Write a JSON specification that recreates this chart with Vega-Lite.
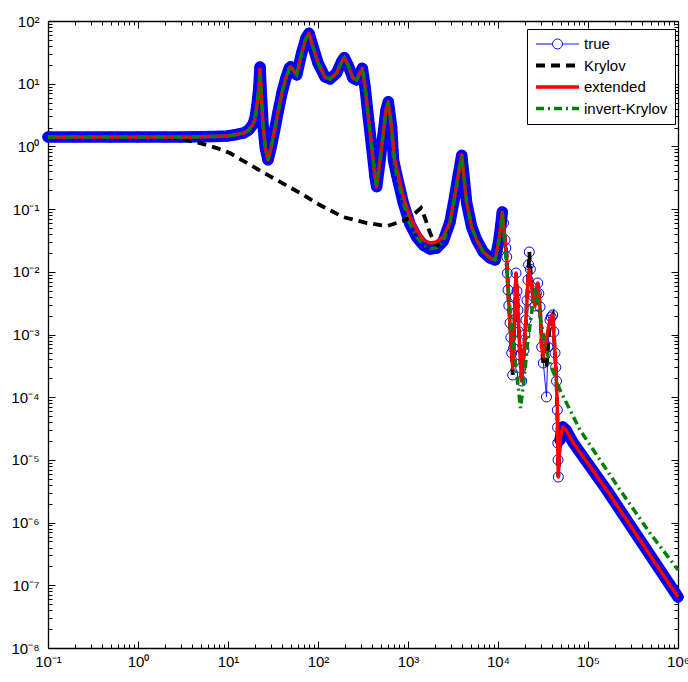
{
"$schema":"https://vega.github.io/schema/vega-lite/v6.json",
"width":630,"height":627,
"autosize":{"type":"none"},
"padding":{"left":48,"top":21,"right":10,"bottom":34},
"background":"white",
"config":{"view":{"stroke":null},
 "legend":{"orient":"none","legendX":479,"legendY":8,"strokeColor":"black","fillColor":"white","padding":7,"labelFont":"Liberation Sans","labelFontSize":15,"labelColor":"black","symbolSize":1849,"clipHeight":16,"rowPadding":5.5,"labelOffset":3,"symbolType":"stroke"}},
"datasets":{
"d":[
{"s":"true","x":0.1,"y":1.41},{"s":"true","x":0.2,"y":1.41},{"s":"true","x":0.5,"y":1.41},{"s":"true","x":1,"y":1.41},{"s":"true","x":2,"y":1.41},{"s":"true","x":3,"y":1.41},{"s":"true","x":5,"y":1.42},{"s":"true","x":7,"y":1.44},{"s":"true","x":10,"y":1.47},{"s":"true","x":12.5,"y":1.55},{"s":"true","x":15,"y":1.64},{"s":"true","x":17,"y":1.83},{"s":"true","x":19,"y":2.27},{"s":"true","x":20,"y":2.84},{"s":"true","x":21,"y":4.57},{"s":"true","x":22,"y":8.5},{"s":"true","x":22.7,"y":18.4},{"s":"true","x":23.5,"y":6.6},{"s":"true","x":24.5,"y":2.19},{"s":"true","x":26,"y":0.94},{"s":"true","x":27.8,"y":0.61},{"s":"true","x":30,"y":0.94},{"s":"true","x":33,"y":1.83},{"s":"true","x":36,"y":3.54},{"s":"true","x":40,"y":7.4},{"s":"true","x":44,"y":12.3},{"s":"true","x":48,"y":17.8},{"s":"true","x":49.8,"y":18.7},{"s":"true","x":58,"y":13.8},{"s":"true","x":65.9,"y":30.9},{"s":"true","x":73.6,"y":53.5},{"s":"true","x":79.4,"y":63.7},{"s":"true","x":88,"y":38.9},{"s":"true","x":100,"y":21.4},{"s":"true","x":119.6,"y":12.8},{"s":"true","x":136,"y":11.9},{"s":"true","x":161,"y":14.8},{"s":"true","x":183,"y":22.4},{"s":"true","x":196,"y":26},{"s":"true","x":215,"y":19.9},{"s":"true","x":245,"y":12.3},{"s":"true","x":269,"y":11.5},{"s":"true","x":293,"y":14.8},{"s":"true","x":311,"y":17.6},{"s":"true","x":333,"y":8.96},{"s":"true","x":362,"y":2.98},{"s":"true","x":395,"y":0.99},{"s":"true","x":430,"y":0.329},{"s":"true","x":449,"y":0.228},{"s":"true","x":489,"y":0.607},{"s":"true","x":532,"y":1.64},{"s":"true","x":570,"y":3.81},{"s":"true","x":604,"y":5.16},{"s":"true","x":659,"y":1.96},{"s":"true","x":690,"y":0.607},{"s":"true","x":749,"y":0.35},{"s":"true","x":887,"y":0.125},{"s":"true","x":1052,"y":0.0578},{"s":"true","x":1250,"y":0.0359},{"s":"true","x":1480,"y":0.0267},{"s":"true","x":1755,"y":0.0231},{"s":"true","x":2083,"y":0.024},{"s":"true","x":2468,"y":0.031},{"s":"true","x":2930,"y":0.0622},{"s":"true","x":3328,"y":0.168},{"s":"true","x":3622,"y":0.35},{"s":"true","x":3954,"y":0.72},{"s":"true","x":4117,"y":0.421},{"s":"true","x":4487,"y":0.125},{"s":"true","x":5102,"y":0.0519},{"s":"true","x":5800,"y":0.0321},{"s":"true","x":6870,"y":0.0207},{"s":"true","x":8150,"y":0.0166},{"s":"true","x":9270,"y":0.0154},{"s":"true","x":10260,"y":0.0321},{"s":"true","x":10800,"y":0.0578},{"s":"true","x":11160,"y":0.09},{"s":"true","x":11500,"y":0.06},{"s":"true","x":11960,"y":0.0321},{"s":"true","x":12200,"y":0.024},{"s":"true","x":12500,"y":0.0172},{"s":"true","x":12700,"y":0.0095},{"s":"true","x":12920,"y":0.00513},{"s":"true","x":13200,"y":0.0029},{"s":"true","x":13600,"y":0.00153},{"s":"true","x":13900,"y":0.0009},{"s":"true","x":14200,"y":0.000507},{"s":"true","x":14560,"y":0.000226},{"s":"true","x":14900,"y":0.0006},{"s":"true","x":15250,"y":0.0017},{"s":"true","x":15550,"y":0.004},{"s":"true","x":15850,"y":0.00957},{"s":"true","x":16250,"y":0.0049},{"s":"true","x":16670,"y":0.00246},{"s":"true","x":17100,"y":0.0011},{"s":"true","x":17550,"y":0.000471},{"s":"true","x":17900,"y":0.00029},{"s":"true","x":18330,"y":0.000181},{"s":"true","x":19450,"y":0.000566},{"s":"true","x":19900,"y":0.001},{"s":"true","x":20460,"y":0.0017},{"s":"true","x":21000,"y":0.0035},{"s":"true","x":21540,"y":0.0074},{"s":"true","x":21900,"y":0.013},{"s":"true","x":22280,"y":0.0207},{"s":"true","x":22900,"y":0.011},{"s":"true","x":23660,"y":0.00573},{"s":"true","x":24700,"y":0.0041},{"s":"true","x":25760,"y":0.00285},{"s":"true","x":26700,"y":0.0045},{"s":"true","x":27620,"y":0.00662},{"s":"true","x":28400,"y":0.0045},{"s":"true","x":29290,"y":0.00275},{"s":"true","x":30600,"y":0.000632},{"s":"true","x":31880,"y":0.000351},{"s":"true","x":34570,"y":0.000101},{"s":"true","x":35940,"y":0.000632},{"s":"true","x":37830,"y":0.0017},{"s":"true","x":39000,"y":0.0019},{"s":"true","x":40550,"y":0.00205},{"s":"true","x":41700,"y":0.0011},{"s":"true","x":42990,"y":0.000507},{"s":"true","x":43800,"y":0.0003},{"s":"true","x":44670,"y":0.000181},{"s":"true","x":45620,"y":0.0000625},{"s":"true","x":45900,"y":0.000033},{"s":"true","x":46150,"y":0.0000186},{"s":"true","x":46450,"y":0.00001},{"s":"true","x":46770,"y":0.00000533},{"s":"true","x":48870,"y":0.0000208},{"s":"true","x":52360,"y":0.0000335},{"s":"true","x":57020,"y":0.00003},{"s":"true","x":68710,"y":0.0000186},{"s":"true","x":161400,"y":0.00000331},{"s":"true","x":378400,"y":0.000000527},{"s":"true","x":1000000,"y":0.000000065},

{"s":"Krylov","x":0.1,"y":1.41},{"s":"Krylov","x":1,"y":1.41},{"s":"Krylov","x":2,"y":1.4},{"s":"Krylov","x":2.93,"y":1.31},{"s":"Krylov","x":4.89,"y":1.13},{"s":"Krylov","x":7.5,"y":0.94},{"s":"Krylov","x":10.5,"y":0.785},{"s":"Krylov","x":19.1,"y":0.474},{"s":"Krylov","x":34.8,"y":0.291},{"s":"Krylov","x":63.1,"y":0.181},{"s":"Krylov","x":105,"y":0.116},{"s":"Krylov","x":190,"y":0.0748},{"s":"Krylov","x":350,"y":0.06},{"s":"Krylov","x":584,"y":0.0537},{"s":"Krylov","x":880,"y":0.0645},{"s":"Krylov","x":1136,"y":0.0805},{"s":"Krylov","x":1394,"y":0.104},{"s":"Krylov","x":1545,"y":0.0721},{"s":"Krylov","x":1711,"y":0.0464},{"s":"Krylov","x":1896,"y":0.0321},{"s":"Krylov","x":2083,"y":0.0258},{"s":"Krylov","x":2468,"y":0.031},{"s":"Krylov","x":2930,"y":0.0622},{"s":"Krylov","x":3328,"y":0.168},{"s":"Krylov","x":3622,"y":0.35},{"s":"Krylov","x":3954,"y":0.72},{"s":"Krylov","x":4117,"y":0.421},{"s":"Krylov","x":4487,"y":0.125},{"s":"Krylov","x":5102,"y":0.0519},{"s":"Krylov","x":5800,"y":0.0321},{"s":"Krylov","x":6870,"y":0.0207},{"s":"Krylov","x":8150,"y":0.0166},{"s":"Krylov","x":9270,"y":0.0154},{"s":"Krylov","x":10260,"y":0.0321},{"s":"Krylov","x":10800,"y":0.0578},{"s":"Krylov","x":11160,"y":0.09},{"s":"Krylov","x":11960,"y":0.0321},{"s":"Krylov","x":12500,"y":0.0172},{"s":"Krylov","x":12920,"y":0.00513},{"s":"Krylov","x":13600,"y":0.00153},{"s":"Krylov","x":14200,"y":0.000507},{"s":"Krylov","x":14560,"y":0.000226},{"s":"Krylov","x":15250,"y":0.0017},{"s":"Krylov","x":15850,"y":0.00957},{"s":"Krylov","x":16670,"y":0.00246},{"s":"Krylov","x":17550,"y":0.000471},{"s":"Krylov","x":18330,"y":0.000181},{"s":"Krylov","x":19450,"y":0.000566},{"s":"Krylov","x":20460,"y":0.0017},{"s":"Krylov","x":21540,"y":0.0074},{"s":"Krylov","x":22280,"y":0.0207},{"s":"Krylov","x":23660,"y":0.00573},{"s":"Krylov","x":25760,"y":0.00285},{"s":"Krylov","x":27620,"y":0.00662},{"s":"Krylov","x":29290,"y":0.00275},{"s":"Krylov","x":30600,"y":0.000632},{"s":"Krylov","x":31880,"y":0.000351},{"s":"Krylov","x":34570,"y":0.0003},{"s":"Krylov","x":35940,"y":0.000632},{"s":"Krylov","x":37830,"y":0.0017},{"s":"Krylov","x":40550,"y":0.00205},{"s":"Krylov","x":42990,"y":0.000507},{"s":"Krylov","x":44670,"y":0.000181},{"s":"Krylov","x":45620,"y":0.0000625},{"s":"Krylov","x":46150,"y":0.0000186},{"s":"Krylov","x":46770,"y":0.00000533},{"s":"Krylov","x":48870,"y":0.0000208},{"s":"Krylov","x":52360,"y":0.0000335},{"s":"Krylov","x":57020,"y":0.00003},{"s":"Krylov","x":68710,"y":0.0000186},{"s":"Krylov","x":161400,"y":0.00000331},{"s":"Krylov","x":378400,"y":0.000000527},{"s":"Krylov","x":1000000,"y":0.000000065},

{"s":"extended","x":0.1,"y":1.41},{"s":"extended","x":0.2,"y":1.41},{"s":"extended","x":0.5,"y":1.41},{"s":"extended","x":1,"y":1.41},{"s":"extended","x":2,"y":1.41},{"s":"extended","x":3,"y":1.41},{"s":"extended","x":5,"y":1.42},{"s":"extended","x":7,"y":1.44},{"s":"extended","x":10,"y":1.47},{"s":"extended","x":12.5,"y":1.55},{"s":"extended","x":15,"y":1.64},{"s":"extended","x":17,"y":1.83},{"s":"extended","x":19,"y":2.27},{"s":"extended","x":20,"y":2.84},{"s":"extended","x":21,"y":4.57},{"s":"extended","x":22,"y":8.5},{"s":"extended","x":22.7,"y":17},{"s":"extended","x":23.5,"y":6.6},{"s":"extended","x":24.5,"y":2.19},{"s":"extended","x":26,"y":0.94},{"s":"extended","x":27.8,"y":0.61},{"s":"extended","x":30,"y":0.94},{"s":"extended","x":33,"y":1.83},{"s":"extended","x":36,"y":3.54},{"s":"extended","x":40,"y":7.4},{"s":"extended","x":44,"y":12.3},{"s":"extended","x":48,"y":17.8},{"s":"extended","x":49.8,"y":18.7},{"s":"extended","x":58,"y":13.8},{"s":"extended","x":65.9,"y":30.9},{"s":"extended","x":73.6,"y":53.5},{"s":"extended","x":79.4,"y":63.7},{"s":"extended","x":88,"y":38.9},{"s":"extended","x":100,"y":21.4},{"s":"extended","x":119.6,"y":12.8},{"s":"extended","x":136,"y":11.9},{"s":"extended","x":161,"y":14.8},{"s":"extended","x":183,"y":22.4},{"s":"extended","x":196,"y":26},{"s":"extended","x":215,"y":19.9},{"s":"extended","x":245,"y":12.3},{"s":"extended","x":269,"y":11.5},{"s":"extended","x":293,"y":14.8},{"s":"extended","x":311,"y":17.6},{"s":"extended","x":333,"y":8.96},{"s":"extended","x":362,"y":2.98},{"s":"extended","x":395,"y":0.99},{"s":"extended","x":430,"y":0.329},{"s":"extended","x":449,"y":0.228},{"s":"extended","x":489,"y":0.607},{"s":"extended","x":532,"y":1.64},{"s":"extended","x":570,"y":3.81},{"s":"extended","x":604,"y":5.16},{"s":"extended","x":659,"y":1.96},{"s":"extended","x":711,"y":0.607},{"s":"extended","x":887,"y":0.156},{"s":"extended","x":1052,"y":0.0748},{"s":"extended","x":1250,"y":0.0464},{"s":"extended","x":1480,"y":0.0321},{"s":"extended","x":1755,"y":0.0288},{"s":"extended","x":2083,"y":0.0299},{"s":"extended","x":2468,"y":0.0359},{"s":"extended","x":2930,"y":0.0622},{"s":"extended","x":3328,"y":0.168},{"s":"extended","x":3622,"y":0.35},{"s":"extended","x":3954,"y":0.72},{"s":"extended","x":4117,"y":0.421},{"s":"extended","x":4487,"y":0.125},{"s":"extended","x":5102,"y":0.0519},{"s":"extended","x":5800,"y":0.0321},{"s":"extended","x":6870,"y":0.0207},{"s":"extended","x":8150,"y":0.0166},{"s":"extended","x":9270,"y":0.0154},{"s":"extended","x":10260,"y":0.0321},{"s":"extended","x":10800,"y":0.0578},{"s":"extended","x":11160,"y":0.088},{"s":"extended","x":11960,"y":0.0321},{"s":"extended","x":12500,"y":0.0172},{"s":"extended","x":12920,"y":0.00513},{"s":"extended","x":13600,"y":0.00153},{"s":"extended","x":14200,"y":0.000507},{"s":"extended","x":14560,"y":0.00029},{"s":"extended","x":15250,"y":0.0017},{"s":"extended","x":15850,"y":0.00957},{"s":"extended","x":16670,"y":0.00246},{"s":"extended","x":17550,"y":0.000471},{"s":"extended","x":18330,"y":0.000181},{"s":"extended","x":19450,"y":0.000566},{"s":"extended","x":20460,"y":0.0017},{"s":"extended","x":21540,"y":0.0074},{"s":"extended","x":22280,"y":0.0107},{"s":"extended","x":23660,"y":0.00573},{"s":"extended","x":25760,"y":0.00285},{"s":"extended","x":27620,"y":0.00662},{"s":"extended","x":29290,"y":0.00275},{"s":"extended","x":30600,"y":0.000632},{"s":"extended","x":31880,"y":0.000443},{"s":"extended","x":35940,"y":0.00118},{"s":"extended","x":37830,"y":0.0017},{"s":"extended","x":40550,"y":0.00205},{"s":"extended","x":42990,"y":0.000507},{"s":"extended","x":44670,"y":0.000181},{"s":"extended","x":45620,"y":0.0000625},{"s":"extended","x":46150,"y":0.0000186},{"s":"extended","x":46770,"y":0.00000533},{"s":"extended","x":48870,"y":0.0000208},{"s":"extended","x":52360,"y":0.0000335},{"s":"extended","x":57020,"y":0.00003},{"s":"extended","x":68710,"y":0.0000186},{"s":"extended","x":161400,"y":0.00000331},{"s":"extended","x":378400,"y":0.000000527},{"s":"extended","x":1000000,"y":0.000000065},

{"s":"invert-Krylov","x":0.1,"y":1.41},{"s":"invert-Krylov","x":0.2,"y":1.41},{"s":"invert-Krylov","x":0.5,"y":1.41},{"s":"invert-Krylov","x":1,"y":1.41},{"s":"invert-Krylov","x":2,"y":1.41},{"s":"invert-Krylov","x":3,"y":1.41},{"s":"invert-Krylov","x":5,"y":1.42},{"s":"invert-Krylov","x":7,"y":1.44},{"s":"invert-Krylov","x":10,"y":1.47},{"s":"invert-Krylov","x":12.5,"y":1.55},{"s":"invert-Krylov","x":15,"y":1.64},{"s":"invert-Krylov","x":17,"y":1.83},{"s":"invert-Krylov","x":19,"y":2.27},{"s":"invert-Krylov","x":20,"y":2.84},{"s":"invert-Krylov","x":21,"y":4.57},{"s":"invert-Krylov","x":22,"y":8.5},{"s":"invert-Krylov","x":22.7,"y":14},{"s":"invert-Krylov","x":23.5,"y":6.6},{"s":"invert-Krylov","x":24.5,"y":2.19},{"s":"invert-Krylov","x":26,"y":0.94},{"s":"invert-Krylov","x":27.8,"y":0.61},{"s":"invert-Krylov","x":30,"y":0.94},{"s":"invert-Krylov","x":33,"y":1.83},{"s":"invert-Krylov","x":36,"y":3.54},{"s":"invert-Krylov","x":40,"y":7.4},{"s":"invert-Krylov","x":44,"y":12.3},{"s":"invert-Krylov","x":48,"y":17.8},{"s":"invert-Krylov","x":49.8,"y":18.7},{"s":"invert-Krylov","x":58,"y":13.8},{"s":"invert-Krylov","x":65.9,"y":30.9},{"s":"invert-Krylov","x":73.6,"y":53.5},{"s":"invert-Krylov","x":79.4,"y":60},{"s":"invert-Krylov","x":88,"y":38.9},{"s":"invert-Krylov","x":100,"y":21.4},{"s":"invert-Krylov","x":119.6,"y":12.8},{"s":"invert-Krylov","x":136,"y":11.9},{"s":"invert-Krylov","x":161,"y":14.8},{"s":"invert-Krylov","x":183,"y":22.4},{"s":"invert-Krylov","x":196,"y":26},{"s":"invert-Krylov","x":215,"y":19.9},{"s":"invert-Krylov","x":245,"y":12.3},{"s":"invert-Krylov","x":269,"y":11.5},{"s":"invert-Krylov","x":293,"y":14.8},{"s":"invert-Krylov","x":311,"y":17.6},{"s":"invert-Krylov","x":333,"y":8.96},{"s":"invert-Krylov","x":362,"y":2.98},{"s":"invert-Krylov","x":395,"y":0.99},{"s":"invert-Krylov","x":430,"y":0.329},{"s":"invert-Krylov","x":449,"y":0.228},{"s":"invert-Krylov","x":489,"y":0.607},{"s":"invert-Krylov","x":532,"y":1.64},{"s":"invert-Krylov","x":570,"y":3.81},{"s":"invert-Krylov","x":604,"y":5.16},{"s":"invert-Krylov","x":659,"y":1.96},{"s":"invert-Krylov","x":690,"y":0.607},{"s":"invert-Krylov","x":749,"y":0.35},{"s":"invert-Krylov","x":887,"y":0.125},{"s":"invert-Krylov","x":1052,"y":0.0578},{"s":"invert-Krylov","x":1250,"y":0.0359},{"s":"invert-Krylov","x":1480,"y":0.0267},{"s":"invert-Krylov","x":1755,"y":0.0231},{"s":"invert-Krylov","x":2083,"y":0.024},{"s":"invert-Krylov","x":2468,"y":0.031},{"s":"invert-Krylov","x":2930,"y":0.0622},{"s":"invert-Krylov","x":3328,"y":0.168},{"s":"invert-Krylov","x":3622,"y":0.35},{"s":"invert-Krylov","x":3954,"y":0.72},{"s":"invert-Krylov","x":4117,"y":0.421},{"s":"invert-Krylov","x":4487,"y":0.125},{"s":"invert-Krylov","x":5102,"y":0.0519},{"s":"invert-Krylov","x":5800,"y":0.0321},{"s":"invert-Krylov","x":6870,"y":0.0207},{"s":"invert-Krylov","x":8150,"y":0.0166},{"s":"invert-Krylov","x":9270,"y":0.0154},{"s":"invert-Krylov","x":10260,"y":0.0321},{"s":"invert-Krylov","x":10800,"y":0.0578},{"s":"invert-Krylov","x":11160,"y":0.088},{"s":"invert-Krylov","x":12270,"y":0.0154},{"s":"invert-Krylov","x":13600,"y":0.00246},{"s":"invert-Krylov","x":15060,"y":0.000566},{"s":"invert-Krylov","x":16670,"y":0.000157},{"s":"invert-Krylov","x":17780,"y":0.0000673},{"s":"invert-Krylov","x":19450,"y":0.000188},{"s":"invert-Krylov","x":21540,"y":0.00082},{"s":"invert-Krylov","x":23870,"y":0.00246},{"s":"invert-Krylov","x":26440,"y":0.00552},{"s":"invert-Krylov","x":29290,"y":0.00205},{"s":"invert-Krylov","x":33270,"y":0.00068},{"s":"invert-Krylov","x":37830,"y":0.000351},{"s":"invert-Krylov","x":48870,"y":0.00013},{"s":"invert-Krylov","x":63100,"y":0.0000625},{"s":"invert-Krylov","x":81500,"y":0.00003},{"s":"invert-Krylov","x":114600,"y":0.0000144},{"s":"invert-Krylov","x":161400,"y":0.0000069},{"s":"invert-Krylov","x":227000,"y":0.00000331},{"s":"invert-Krylov","x":489000,"y":0.00000068},{"s":"invert-Krylov","x":1000000,"y":0.000000175}
]},
"data":{"name":"d"},
"resolve":{"axis":{"x":"independent","y":"independent"}},
"layer":[
{"transform":[{"filter":"datum.s == 'true' && datum.x <= 11200"}],
 "mark":{"type":"line","color":"#0000ff","strokeWidth":11.5,"strokeCap":"round","strokeJoin":"round"},
 "encoding":{
  "x":{"field":"x","type":"quantitative","scale":{"type":"log","domain":[0.1,1000000],"nice":false},
   "axis":{"orient":"bottom","title":null,"grid":false,"values":[0.1,0.2,0.3,0.4,0.5,0.6,0.7,0.8,0.9,1,2,3,4,5,6,7,8,9,10,20,30,40,50,60,70,80,90,100,200,300,400,500,600,700,800,900,1000,2000,3000,4000,5000,6000,7000,8000,9000,10000,20000,30000,40000,50000,60000,70000,80000,90000,100000,200000,300000,400000,500000,600000,700000,800000,900000,1000000],
    "tickSize":{"condition":{"test":"abs(log(datum.value)/LN10-round(log(datum.value)/LN10))<1e-6","value":-7},"value":-4},
    "tickColor":"black","tickWidth":1,"domainColor":"black","domainWidth":1.3,
    "labelExpr":"abs(log(datum.value)/LN10-round(log(datum.value)/LN10))<1e-6 ? '10'+(round(log(datum.value)/LN10)<0?'⁻':'')+substring('⁰¹²³⁴⁵⁶⁷⁸⁹',abs(round(log(datum.value)/LN10)),abs(round(log(datum.value)/LN10))+1) : ''",
    "labelFont":"Liberation Sans","labelFontSize":15,"labelColor":"black","labelPadding":13,"labelOverlap":false,"labelFlush":false,"labelBound":false}},
  "y":{"field":"y","type":"quantitative","scale":{"type":"log","domain":[1e-8,100],"nice":false},
   "axis":{"orient":"left","title":null,"grid":false,"values":[1e-8,2e-8,3e-8,4e-8,5e-8,6e-8,7e-8,8e-8,9e-8,1e-7,2e-7,3e-7,4e-7,5e-7,6e-7,7e-7,8e-7,9e-7,1e-6,2e-6,3e-6,4e-6,5e-6,6e-6,7e-6,8e-6,9e-6,1e-5,2e-5,3e-5,4e-5,5e-5,6e-5,7e-5,8e-5,9e-5,1e-4,2e-4,3e-4,4e-4,5e-4,6e-4,7e-4,8e-4,9e-4,0.001,0.002,0.003,0.004,0.005,0.006,0.007,0.008,0.009,0.01,0.02,0.03,0.04,0.05,0.06,0.07,0.08,0.09,0.1,0.2,0.3,0.4,0.5,0.6,0.7,0.8,0.9,1,2,3,4,5,6,7,8,9,10,20,30,40,50,60,70,80,90,100],
    "tickSize":{"condition":{"test":"abs(log(datum.value)/LN10-round(log(datum.value)/LN10))<1e-6","value":-7},"value":-4},
    "tickColor":"black","tickWidth":1,"domainColor":"black","domainWidth":1.3,
    "labelExpr":"abs(log(datum.value)/LN10-round(log(datum.value)/LN10))<1e-6 ? '10'+(round(log(datum.value)/LN10)<0?'⁻':'')+substring('⁰¹²³⁴⁵⁶⁷⁸⁹',abs(round(log(datum.value)/LN10)),abs(round(log(datum.value)/LN10))+1) : ''",
    "labelFont":"Liberation Sans","labelFontSize":15,"labelColor":"black","labelPadding":16,"labelOverlap":false,"labelFlush":false,"labelBound":false}}}},
{"transform":[{"filter":"datum.s == 'true' && datum.x >= 48000"}],
 "mark":{"type":"line","color":"#0000ff","strokeWidth":11.5,"strokeCap":"round","strokeJoin":"round"},
 "encoding":{
  "x":{"field":"x","type":"quantitative","scale":{"type":"log","domain":[0.1,1000000],"nice":false},"axis":null},
  "y":{"field":"y","type":"quantitative","scale":{"type":"log","domain":[1e-8,100],"nice":false},"axis":null}}},
{"transform":[{"filter":"datum.s == 'true'"}],
 "mark":{"type":"point","shape":"circle","filled":false,"color":"#0000ff","size":100,"strokeWidth":1,"opacity":1},
 "encoding":{
  "x":{"field":"x","type":"quantitative","scale":{"type":"log","domain":[0.1,1000000],"nice":false},
   "axis":{"orient":"top","title":null,"grid":false,"labels":false,"values":[0.1,0.2,0.3,0.4,0.5,0.6,0.7,0.8,0.9,1,2,3,4,5,6,7,8,9,10,20,30,40,50,60,70,80,90,100,200,300,400,500,600,700,800,900,1000,2000,3000,4000,5000,6000,7000,8000,9000,10000,20000,30000,40000,50000,60000,70000,80000,90000,100000,200000,300000,400000,500000,600000,700000,800000,900000,1000000],
    "tickSize":{"condition":{"test":"abs(log(datum.value)/LN10-round(log(datum.value)/LN10))<1e-6","value":-7},"value":-4},
    "tickColor":"black","tickWidth":1,"domainColor":"black","domainWidth":1.3}},
  "y":{"field":"y","type":"quantitative","scale":{"type":"log","domain":[1e-8,100],"nice":false},
   "axis":{"orient":"right","title":null,"grid":false,"labels":false,"values":[1e-8,2e-8,3e-8,4e-8,5e-8,6e-8,7e-8,8e-8,9e-8,1e-7,2e-7,3e-7,4e-7,5e-7,6e-7,7e-7,8e-7,9e-7,1e-6,2e-6,3e-6,4e-6,5e-6,6e-6,7e-6,8e-6,9e-6,1e-5,2e-5,3e-5,4e-5,5e-5,6e-5,7e-5,8e-5,9e-5,1e-4,2e-4,3e-4,4e-4,5e-4,6e-4,7e-4,8e-4,9e-4,0.001,0.002,0.003,0.004,0.005,0.006,0.007,0.008,0.009,0.01,0.02,0.03,0.04,0.05,0.06,0.07,0.08,0.09,0.1,0.2,0.3,0.4,0.5,0.6,0.7,0.8,0.9,1,2,3,4,5,6,7,8,9,10,20,30,40,50,60,70,80,90,100],
    "tickSize":{"condition":{"test":"abs(log(datum.value)/LN10-round(log(datum.value)/LN10))<1e-6","value":-7},"value":-4},
    "tickColor":"black","tickWidth":1,"domainColor":"black","domainWidth":1.3}}}},
{"transform":[{"filter":"datum.s == 'true'"}],
 "mark":{"type":"line","strokeJoin":"round"},
 "encoding":{
  "x":{"field":"x","type":"quantitative","scale":{"type":"log","domain":[0.1,1000000],"nice":false},"axis":null},
  "y":{"field":"y","type":"quantitative","scale":{"type":"log","domain":[1e-8,100],"nice":false},"axis":null},
  "color":{"field":"s","type":"nominal","title":null,"scale":{"domain":["true","Krylov","extended","invert-Krylov"],"range":["#0000ff","#000000","#ff0000","#008000"]},
   "legend":{"title":null,"symbolType":"stroke","symbolSize":1849,"encode":{"symbols":{"update":{"shape":{"signal":"datum.value === 'true' ? 'M-1,0H-0.23M0.23,0H1M0.23,0A0.23,0.23,0,1,1,-0.23,0A0.23,0.23,0,1,1,0.23,0' : 'stroke'"},"fill":{"value":"transparent"}}}}}},
  "strokeDash":{"field":"s","type":"nominal","title":null,"scale":{"domain":["true","Krylov","extended","invert-Krylov"],"range":[[1,0],[9,6],[1,0],[8,4,2,4]]}},
  "strokeWidth":{"field":"s","type":"nominal","title":null,"scale":{"type":"ordinal","domain":["true","Krylov","extended","invert-Krylov"],"range":[1,3.8,3.5,3.5]}}}},
{"transform":[{"filter":"datum.s == 'Krylov'"}],
 "mark":{"type":"line"},
 "encoding":{
  "x":{"field":"x","type":"quantitative","scale":{"type":"log","domain":[0.1,1000000],"nice":false},"axis":null},
  "y":{"field":"y","type":"quantitative","scale":{"type":"log","domain":[1e-8,100],"nice":false},"axis":null},
  "color":{"field":"s","type":"nominal","title":null,"scale":{"domain":["true","Krylov","extended","invert-Krylov"],"range":["#0000ff","#000000","#ff0000","#008000"]}},
  "strokeDash":{"field":"s","type":"nominal","title":null,"scale":{"domain":["true","Krylov","extended","invert-Krylov"],"range":[[1,0],[9,6],[1,0],[8,4,2,4]]}},
  "strokeWidth":{"field":"s","type":"nominal","title":null,"scale":{"type":"ordinal","domain":["true","Krylov","extended","invert-Krylov"],"range":[1,3.8,3.5,3.5]}}}},
{"transform":[{"filter":"datum.s == 'extended'"}],
 "mark":{"type":"line","strokeJoin":"round"},
 "encoding":{
  "x":{"field":"x","type":"quantitative","scale":{"type":"log","domain":[0.1,1000000],"nice":false},"axis":null},
  "y":{"field":"y","type":"quantitative","scale":{"type":"log","domain":[1e-8,100],"nice":false},"axis":null},
  "color":{"field":"s","type":"nominal","title":null,"scale":{"domain":["true","Krylov","extended","invert-Krylov"],"range":["#0000ff","#000000","#ff0000","#008000"]}},
  "strokeDash":{"field":"s","type":"nominal","title":null,"scale":{"domain":["true","Krylov","extended","invert-Krylov"],"range":[[1,0],[9,6],[1,0],[8,4,2,4]]}},
  "strokeWidth":{"field":"s","type":"nominal","title":null,"scale":{"type":"ordinal","domain":["true","Krylov","extended","invert-Krylov"],"range":[1,3.8,3.5,3.5]}}}},
{"transform":[{"filter":"datum.s == 'invert-Krylov'"}],
 "mark":{"type":"line"},
 "encoding":{
  "x":{"field":"x","type":"quantitative","scale":{"type":"log","domain":[0.1,1000000],"nice":false},"axis":null},
  "y":{"field":"y","type":"quantitative","scale":{"type":"log","domain":[1e-8,100],"nice":false},"axis":null},
  "color":{"field":"s","type":"nominal","title":null,"scale":{"domain":["true","Krylov","extended","invert-Krylov"],"range":["#0000ff","#000000","#ff0000","#008000"]}},
  "strokeDash":{"field":"s","type":"nominal","title":null,"scale":{"domain":["true","Krylov","extended","invert-Krylov"],"range":[[1,0],[9,6],[1,0],[8,4,2,4]]}},
  "strokeWidth":{"field":"s","type":"nominal","title":null,"scale":{"type":"ordinal","domain":["true","Krylov","extended","invert-Krylov"],"range":[1,3.8,3.5,3.5]}}}}
]
}
